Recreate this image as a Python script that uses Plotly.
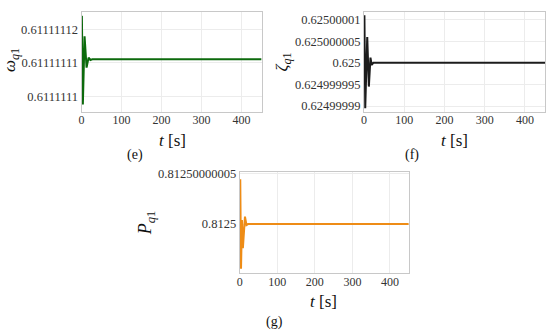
import plotly.graph_objects as go

W, H = 550, 336

# ---- data ----
t_omega = [0, 0.8, 3.2, 7.5, 12.5, 17.5, 22, 27, 450]
omega_q1 = [0.6111111111, 0.6111111241, 0.6111110976, 0.6111111180,
            0.6111111086, 0.6111111116, 0.6111111109, 0.6111111111, 0.6111111111]

t_zeta = [0, 1.0, 3.0, 8.0, 12.0, 16.0, 19.0, 23.0, 450]
zeta_q1 = [0.625, 0.6250000110, 0.6249999895, 0.6250000060, 0.6249999945,
           0.6250000012, 0.6249999995, 0.625, 0.625]

t_p = [0, 1.5, 3.5, 6, 8.5, 14, 18, 22, 450]
p_q1 = [0.8125, 0.8125000000446, 0.8124999999554, 0.8125000000040,
        0.8124999999760, 0.8125000000074, 0.8124999999990, 0.8125, 0.8125]

omega_ticks = [0.61111112, 0.61111111, 0.6111111]
omega_labels = ["0.61111112", "0.61111111", "0.6111111"]
zeta_ticks = [0.62500001, 0.625000005, 0.625, 0.624999995, 0.62499999]
zeta_labels = ["0.62500001", "0.625000005", "0.625", "0.624999995", "0.62499999"]
p_ticks = [0.81250000005, 0.8125, 0.81249999995]
p_labels = ["0.81250000005", "0.8125", "0.81249999995"]
t_ticks = [0, 100, 200, 300, 400]

GREEN = "#0c6a0c"
BLACK = "#1c1c1c"
ORANGE = "#ee8c16"
SERIF = "Liberation Serif"

def px(x0, x1):
    return [x0 / W, x1 / W]

def py(y_top, y_bot):
    return [1 - y_bot / H, 1 - y_top / H]

fig = go.Figure()
fig.add_trace(go.Scatter(x=t_omega, y=omega_q1, mode="lines",
                         line=dict(color=GREEN, width=2), xaxis="x", yaxis="y"))
fig.add_trace(go.Scatter(x=t_zeta, y=zeta_q1, mode="lines",
                         line=dict(color=BLACK, width=2), xaxis="x2", yaxis="y2"))
fig.add_trace(go.Scatter(x=t_p, y=p_q1, mode="lines",
                         line=dict(color=ORANGE, width=2), xaxis="x3", yaxis="y3"))

common_ax = dict(showgrid=True, gridcolor="#ececec", gridwidth=1,
                 showline=True, linecolor="#c8c8c8", linewidth=1, mirror=True,
                 zeroline=False, ticks="")
xax = dict(common_ax, tickfont=dict(family=SERIF, size=12, color="#333"), ticklabelstandoff=-3)
yax = dict(common_ax, tickfont=dict(family=SERIF, size=12.5, color="#333"))

fig.update_layout(
    width=W, height=H, margin=dict(l=0, r=0, t=0, b=0),
    paper_bgcolor="white", plot_bgcolor="white", showlegend=False,
    xaxis=dict(domain=px(79, 260), range=[0, 450], tickvals=t_ticks, anchor="y", **xax),
    yaxis=dict(domain=py(7, 109), range=[0.6111110953, 0.6111111253], tickvals=omega_ticks,
               ticktext=omega_labels, anchor="x", **yax),
    xaxis2=dict(domain=px(363, 545), range=[0, 450], tickvals=t_ticks, anchor="y2", **xax),
    yaxis2=dict(domain=py(7, 109), range=[0.6249999886, 0.6250000118], tickvals=zeta_ticks,
                ticktext=zeta_labels, anchor="x2", **yax),
    xaxis3=dict(domain=px(238, 408), range=[0, 450], tickvals=t_ticks, anchor="y3", **xax),
    yaxis3=dict(domain=py(170, 273), range=[0.8124999999510, 0.8125000000520], tickvals=p_ticks,
                ticktext=p_labels, anchor="x3", **yax),
)

def ann(text, x, y, size, angle=0):
    fig.add_annotation(text=text, x=x / W, y=1 - y / H, xref="paper", yref="paper",
                       showarrow=False, textangle=angle, xanchor="center", yanchor="middle",
                       font=dict(family=SERIF, size=size, color="#111"))

ann("<i>ω</i><sub><i>q</i>1</sub>", 8, 56, 17, -90)
ann("<i>ζ</i><sub><i>q</i>1</sub>", 282, 58, 17, -90)
ann("<i>P</i><sub><i>q</i>1</sub>", 144, 222, 18, -90)
ann("<i>t</i> [s]", 170, 138, 17)
ann("<i>t</i> [s]", 454, 138, 17)
ann("<i>t</i> [s]", 322, 302, 17)
ann("(e)", 133, 153, 14)
ann("(f)", 411, 153, 14)
ann("(g)", 273, 323, 14)

fig.write_html("out.html", config={"displayModeBar": False},
               post_script="document.body.style.margin='0';document.body.style.overflow='hidden';")
